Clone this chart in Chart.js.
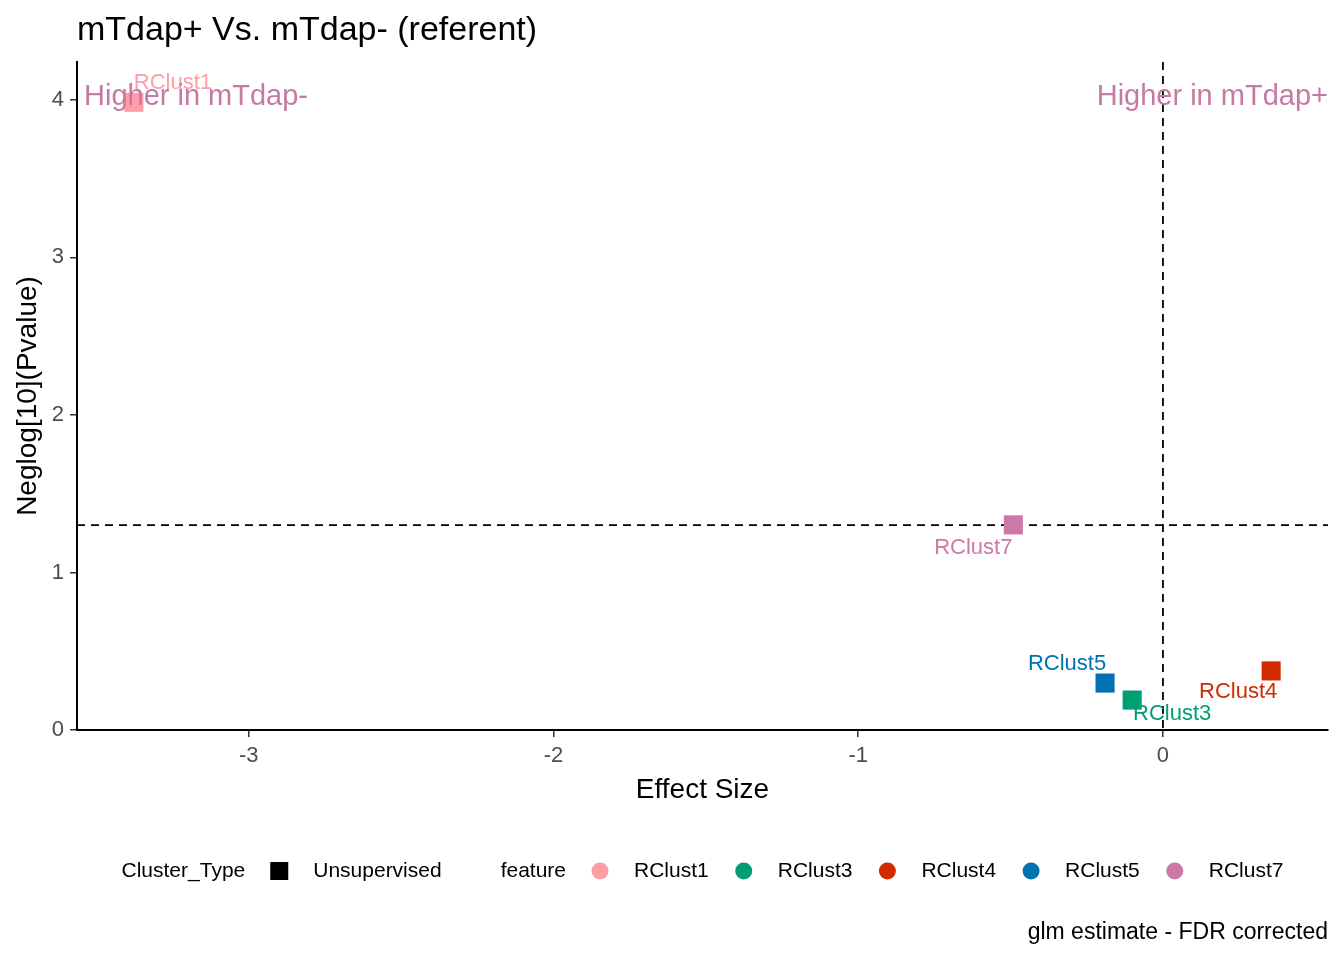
<!DOCTYPE html>
<html>
<head>
<meta charset="utf-8">
<script src="https://cdn.jsdelivr.net/npm/chart.js@4.4.0/dist/chart.umd.min.js"></script>
<style>
  html, body { margin: 0; padding: 0; background: #fff; }
  canvas { display: block; }
</style>
</head>
<body>
<canvas id="volcano" width="1344" height="960"></canvas>
<script>
// data
const features = ['RClust1', 'RClust3', 'RClust4', 'RClust5', 'RClust7'];
const effectSize = [-3.377, -0.101, 0.355, -0.190, -0.491];
const neglogP = [3.984, 0.190, 0.375, 0.298, 1.302];
const featureColors = ['#FF9DA6', '#009E73', '#D42A00', '#0072B2', '#CC79A7'];
const clusterTypes = ['Unsupervised'];
const xTicks = [-3, -2, -1, 0];
const yTicks = [0, 1, 2, 3, 4];
const pCutoff = 1.301;      // -log10(0.05)
const effectCutoff = 0;
const yTop = 4.24;
const annotY = 4.02;

// where ggrepel pushed each label, in px from its point
const labelNudge = [[39, -19], [40, 14], [-33, 21], [-38, -19], [-40, 23]];

const FONT = '"Liberation Sans", Arial, sans-serif';
const ANNOT_COLOR = '#C67AA3';

// ggplot style 5% expansion on x
const xSpan = Math.max(...effectSize) - Math.min(...effectSize);
const xMin = Math.min(...effectSize) - 0.05 * xSpan;
const xMax = Math.max(...effectSize) + 0.05 * xSpan;

const overlay = {
  id: 'overlay',
  beforeDatasetsDraw(chart) {
    const { ctx, chartArea: a, scales: { x, y } } = chart;
    ctx.save();
    ctx.strokeStyle = '#000';
    ctx.lineWidth = 1.8;
    ctx.setLineDash([8, 6]);
    const yy = y.getPixelForValue(pCutoff);
    ctx.beginPath(); ctx.moveTo(a.left, yy); ctx.lineTo(a.right, yy); ctx.stroke();
    const xx = x.getPixelForValue(effectCutoff);
    ctx.beginPath(); ctx.moveTo(xx, a.top); ctx.lineTo(xx, a.bottom); ctx.stroke();
    ctx.restore();
  },
  afterDatasetsDraw(chart) {
    const { ctx, chartArea: a, scales: { y } } = chart;
    ctx.save();
    ctx.textAlign = 'center';
    ctx.textBaseline = 'middle';
    ctx.font = `22px ${FONT}`;
    features.forEach((f, i) => {
      const el = chart.getDatasetMeta(i).data[0];
      ctx.fillStyle = featureColors[i];
      ctx.fillText(f, el.x + labelNudge[i][0], el.y + labelNudge[i][1]);
    });
    // direction annotations
    ctx.font = `29px ${FONT}`;
    ctx.fillStyle = ANNOT_COLOR;
    const ay = y.getPixelForValue(annotY);
    ctx.textAlign = 'left';
    ctx.fillText('Higher in mTdap-', a.left + 7, ay);
    ctx.textAlign = 'right';
    ctx.fillText('Higher in mTdap+', a.right, ay);
    ctx.restore();
  },
  afterDraw(chart) {
    const { ctx, chartArea: a } = chart;
    ctx.save();
    ctx.fillStyle = '#000';
    ctx.textBaseline = 'middle';
    ctx.textAlign = 'left';
    ctx.font = `34px ${FONT}`;
    ctx.fillText('mTdap+ Vs. mTdap- (referent)', a.left, 31);

    // legend, centred under the panel
    ctx.font = `21px ${FONT}`;
    const ly = 871, key = 18, keyGap = 25, itemGap = 26, groupGap = 59;
    const w = t => ctx.measureText(t).width;
    let total = w('Cluster_Type') + keyGap + clusterTypes.reduce((s, t) => s + key + keyGap + w(t), 0)
      + groupGap + w('feature') + keyGap
      + features.reduce((s, t) => s + key + keyGap + w(t), 0) + itemGap * (features.length - 1);
    let lx = (a.left + a.right) / 2 - total / 2;
    ctx.fillText('Cluster_Type', lx, ly);
    lx += w('Cluster_Type') + keyGap;
    clusterTypes.forEach(t => {
      ctx.fillStyle = '#000';
      ctx.fillRect(lx, ly - key / 2, key, key);
      lx += key + keyGap;
      ctx.fillText(t, lx, ly);
      lx += w(t);
    });
    lx += groupGap;
    ctx.fillText('feature', lx, ly);
    lx += w('feature') + keyGap;
    features.forEach((f, i) => {
      ctx.fillStyle = featureColors[i];
      ctx.beginPath();
      ctx.arc(lx + key / 2, ly, 8.5, 0, Math.PI * 2);
      ctx.fill();
      lx += key + keyGap;
      ctx.fillStyle = '#000';
      ctx.fillText(f, lx, ly);
      lx += w(f) + itemGap;
    });

    ctx.font = `23px ${FONT}`;
    ctx.textAlign = 'right';
    ctx.fillText('glm estimate - FDR corrected', a.right, 933);
    ctx.restore();
  }
};

new Chart(document.getElementById('volcano'), {
  type: 'scatter',
  data: {
    datasets: features.map((f, i) => ({
      label: f,
      data: [{ x: effectSize[i], y: neglogP[i] }],
      backgroundColor: featureColors[i],
      borderWidth: 0,
      pointStyle: 'rect',
      pointRadius: 13.5,
      pointHoverRadius: 13.5
    }))
  },
  options: {
    responsive: false,
    animation: false,
    devicePixelRatio: 1,
    layout: { padding: { top: 62, right: 16, bottom: 150, left: 0 } },
    plugins: { legend: { display: false }, tooltip: { enabled: false } },
    scales: {
      x: {
        type: 'linear',
        min: xMin,
        max: xMax,
        afterBuildTicks: s => { s.ticks = xTicks.map(v => ({ value: v })); },
        afterFit: s => { s.height = 80; },
        border: { display: true, color: '#000', width: 2 },
        grid: { display: true, drawOnChartArea: false, drawTicks: true, tickLength: 7, color: '#333', lineWidth: 1.5 },
        ticks: { color: '#4D4D4D', font: { size: 22, family: FONT }, padding: 6, maxRotation: 0, callback: v => String(v) },
        title: { display: true, text: 'Effect Size', color: '#000', font: { size: 28, family: FONT }, padding: { top: 0, bottom: 3 } }
      },
      y: {
        type: 'linear',
        min: 0,
        max: yTop,
        afterBuildTicks: s => { s.ticks = yTicks.map(v => ({ value: v })); },
        afterFit: s => { s.width = 77; },
        border: { display: true, color: '#000', width: 2 },
        grid: { display: true, drawOnChartArea: false, drawTicks: true, tickLength: 7, color: '#333', lineWidth: 1.5 },
        ticks: { color: '#4D4D4D', font: { size: 22, family: FONT }, padding: 6, callback: v => String(v) },
        title: { display: true, text: 'Neglog[10](Pvalue)', color: '#000', font: { size: 28, family: FONT }, padding: { top: 11, bottom: 0 } }
      }
    }
  },
  plugins: [overlay]
});
</script>
</body>
</html>
